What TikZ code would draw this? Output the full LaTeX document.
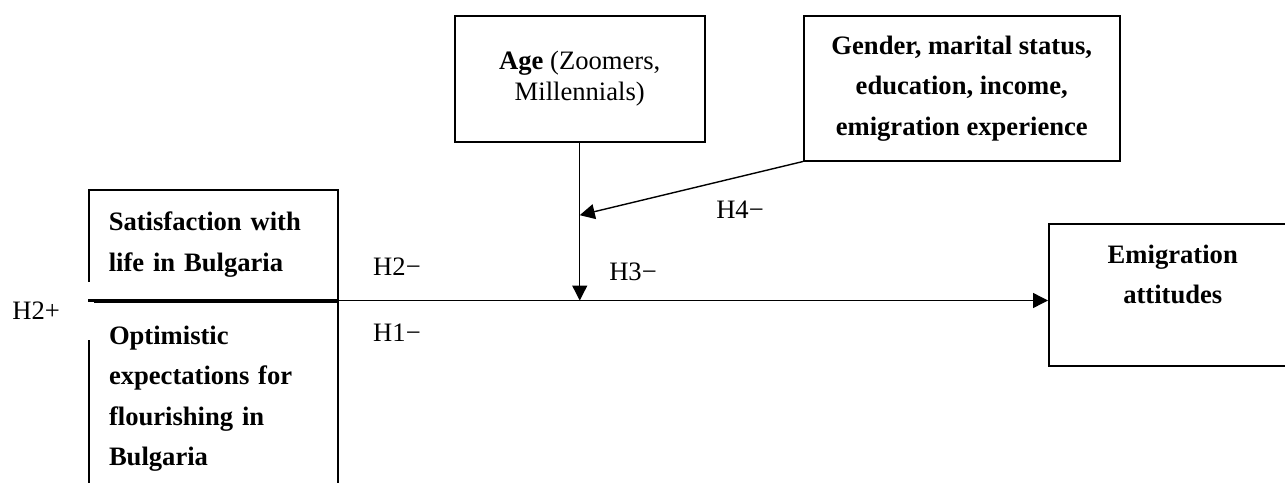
\documentclass[tikz,border=0pt]{standalone}
\usepackage{fontspec}
\setmainfont{Liberation Serif}
\usetikzlibrary{arrows.meta, calc}
\tikzset{
  BoxBase/.style  = {draw, rectangle, line width=0.75pt, inner sep=0pt,
                     font=\fontsize{13.3}{20.25}\selectfont\bfseries},
  Factor/.style   = {BoxBase, align=left, text width=104.5pt, minimum width=124.5pt},
  Moderator/.style= {BoxBase, align=center},
  Outcome/.style  = {BoxBase, align=center, minimum width=124pt, minimum height=71pt},
  HypLabel/.style = {font=\fontsize{13.3}{16}\selectfont, inner sep=1pt},
  PathLine/.style = {line width=0.7pt, -{Triangle[length=7.5pt, width=7.5pt]}},
}

\begin{document}
\begin{tikzpicture}[x=0.5pt, y=-0.5pt]
  \useasboundingbox (0,0) rectangle (1285,482);
  % predictors
  \node[Factor, minimum height=55pt, anchor=north west] (sat) at (88,189) {Satisfaction with\\life in Bulgaria};
  \node[Factor, minimum height=97pt, anchor=north west, line width=1pt] (opt) at (sat.south west) {Optimistic\\expectations for\\flourishing in\\Bulgaria};
  % moderators and outcome
  \node[Moderator, font=\fontsize{13.3}{15.5}\selectfont, minimum width=125pt, minimum height=63pt, anchor=north west] (age) at (454,15) {\textbf{Age} (Zoomers,\\Millennials)};
  \node[Moderator, minimum width=158pt, minimum height=72.5pt, anchor=north west] (ctrl) at (803,15) {Gender, marital status,\\education, income,\\emigration experience};
  \node[Outcome, anchor=north west] (emig) at (1048,223) {Emigration\\attitudes\\\mbox{}};

  \node[HypLabel, fill=white, anchor=west, minimum width=43pt, minimum height=29pt,
        text width=39pt, align=left, inner sep=2pt] (h2p) at (8,311) {H2+};
  \draw[line width=1.6pt] (opt.north west) -- (opt.north east);

  % paths
  \coordinate (mod) at (age.south |- sat.south east);
  \coordinate (hit) at ($(age.south)!0.46!(mod)$);
  \draw[PathLine] (sat.south east) -- (sat.south east -| emig.west);
  \draw[PathLine] (age.south) -- (mod);
  \draw[PathLine] (ctrl.south west) -- (hit);

  \node[HypLabel] (h2m) at (397,267) {H2−};
  \node[HypLabel] (h1m) at (397,333) {H1−};
  \node[HypLabel] (h3m) at (633,272) {H3−};
  \node[HypLabel] (h4m) at (740,210) {H4−};
\end{tikzpicture}
\end{document}
